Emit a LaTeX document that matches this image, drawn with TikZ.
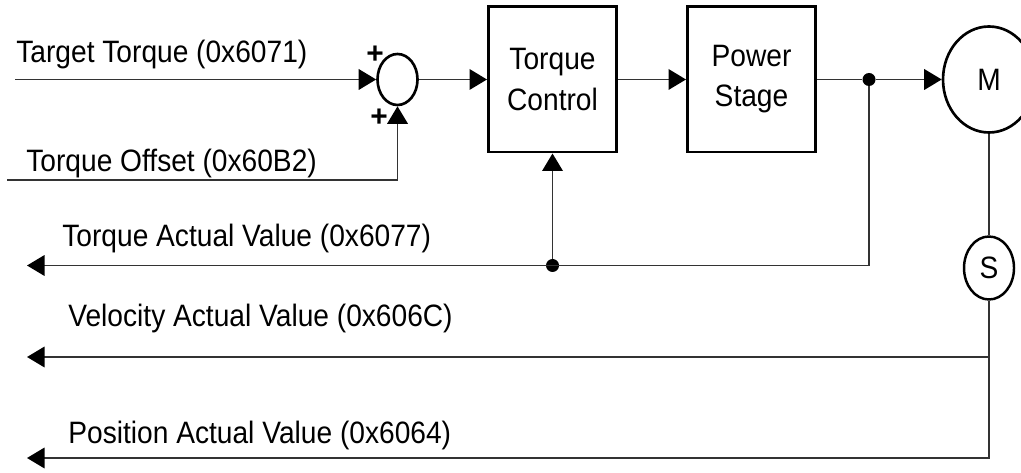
\documentclass[tikz,border=0pt]{standalone}
\usepackage{graphicx}
\usepackage{fontspec}
\setmainfont{Liberation Sans}
\usepackage{tikz}
\usetikzlibrary{arrows.meta,positioning,calc,shapes.geometric}
\newcommand{\nar}[1]{\scalebox{0.91}[1]{#1}}

\begin{document}
\begin{tikzpicture}[
  font=\fontsize{17.6}{22.8}\selectfont,
  blk/.style={draw, line width=1.7pt, minimum width=2.56cm, minimum height=2.9cm, align=center, inner sep=1pt},
  sumj/.style={draw, line width=1.5pt, ellipse, minimum width=0.8cm, minimum height=1.02cm, inner sep=0pt},
  mot/.style={draw, line width=1.5pt, ellipse, minimum width=1.84cm, minimum height=2.12cm, inner sep=0pt},
  sens/.style={draw, line width=1.4pt, ellipse, minimum width=1.0cm, minimum height=1.26cm, inner sep=0pt},
  dot/.style={circle, fill=black, minimum size=0.26cm, inner sep=0pt},
  sig/.style={-{Triangle[length=3.5mm, width=4.1mm, black]}, line width=1.1pt, black!80},
  wire/.style={line width=1.1pt, black!80},
  lbl/.style={anchor=base west, inner sep=0pt},
  pls/.style={font=\fontsize{17}{17}\bfseries\selectfont, inner sep=0pt}]
\useasboundingbox (0,0) rectangle (20.42,9.44);
\node[sumj] (s) at (7.95,7.85) {};
\node[blk] (tc) at (11.05,7.85) {\nar{Torque}\\\nar{Control}};
\node[blk] (ps) at (15.03,7.85) {\nar{Power}\\\nar{Stage}};
\node[mot] (m) at (19.78,7.85) {\nar{M}};
\node[sens] (sn) at (19.78,4.08) {\nar{S}};
\node[dot] (j1) at (17.38,7.85) {};
\node[dot] (j2) at (11.05,4.13) {};
\node[pls] (p1) at (7.50,8.34) {+};
\node[pls] (p2) at (7.58,7.08) {+};
\coordinate (tt) at (0.30,7.85);
\coordinate (to) at (0.14,5.84);
\coordinate (tav) at (0.54,4.13);
\coordinate (vav) at (0.54,2.30);
\coordinate (pav) at (0.54,0.28);
\node[lbl] (ltt) at (0.32,8.18) {\nar{Target Torque (0x6071)}};
\node[lbl] (lto) at (0.52,6.00) {\nar{Torque Offset (0x60B2)}};
\node[lbl] (ltav) at (1.24,4.50) {\nar{Torque Actual Value (0x6077)}};
\node[lbl] (lvav) at (1.36,2.90) {\nar{Velocity Actual Value (0x606C)}};
\node[lbl] (lpav) at (1.36,0.58) {\nar{Position Actual Value (0x6064)}};
\draw[sig] (tt) -- (s);
\draw[sig] (to) -| (s.south);
\draw[sig] (s) -- (tc);
\draw[sig] (tc) -- (ps);
\draw[wire] (ps) -- (j1);
\draw[sig] (j1) -- (m);
\draw[sig] (j1) |- (tav);
\draw[sig] (j2) -- (tc.south);
\draw[wire] (m.south) -- (sn.north);
\draw[sig] (sn.south) |- (pav);
\draw[sig] (sn.south |- vav) -- (vav);
\end{tikzpicture}
\end{document}
